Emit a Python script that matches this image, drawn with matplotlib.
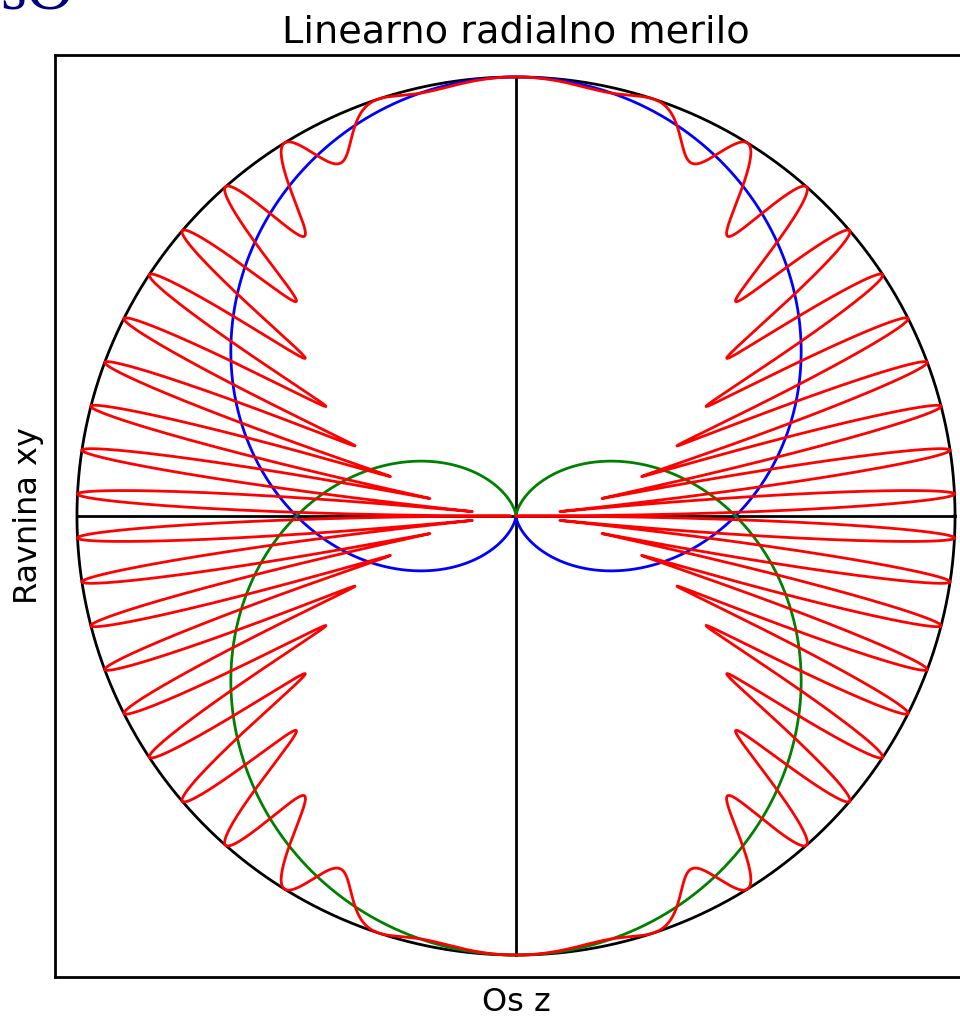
import numpy as np
import matplotlib
matplotlib.use("Agg")
import matplotlib.pyplot as plt

# Pattern parameters
title_text = "Linearno radialno merilo"
xlabel_text = "Os z"
ylabel_text = "Ravnina xy"
half_waves = 10          # path difference in half wavelengths -> phase 20*pi*sin(theta)
phase_offset = np.pi     # extra phase between the two partial waves
n_points = 8000

theta = np.linspace(0, 2 * np.pi, n_points)
s = np.sin(theta)

# Two cardioid partial waves and their interference
r_up = (1 + s) / 2
r_down = (1 - s) / 2
r_sum = np.abs(r_up + r_down * np.exp(1j * (2 * np.pi * half_waves * s - phase_offset)))

fig = plt.figure(figsize=(9.6, 10.18), dpi=100)
W, H = 960, 1018
ax = fig.add_axes([55 / W, 41 / H, 922 / W, 922 / H])

lw = 2.0
# unit circle and axes lines
ax.plot(np.cos(theta), np.sin(theta), color="black", lw=lw)
ax.plot([-1, 1], [0, 0], color="black", lw=lw)
ax.plot([0, 0], [-1, 1], color="black", lw=lw)

ax.plot(r_up * np.cos(theta), r_up * np.sin(theta), color="blue", lw=lw)
ax.plot(r_down * np.cos(theta), r_down * np.sin(theta), color="green", lw=lw)
ax.plot(r_sum * np.cos(theta), r_sum * np.sin(theta), color="red", lw=lw)

ax.set_xlim(-1.05, 1.05)
ax.set_ylim(-1.05, 1.05)
ax.set_xticks([])
ax.set_yticks([])
for sp in ax.spines.values():
    sp.set_linewidth(lw)

ax.set_title(title_text, fontsize=27.5, pad=9)
ax.set_xlabel(xlabel_text, fontsize=23, labelpad=7)
ax.set_ylabel(ylabel_text, fontsize=23, labelpad=8)

fig.text(0 / W, 1 - 10 / H, "sO", fontsize=48, color="#000080",
         family="Liberation Serif", va="baseline", ha="left")

fig.savefig("out.png", dpi=100)
